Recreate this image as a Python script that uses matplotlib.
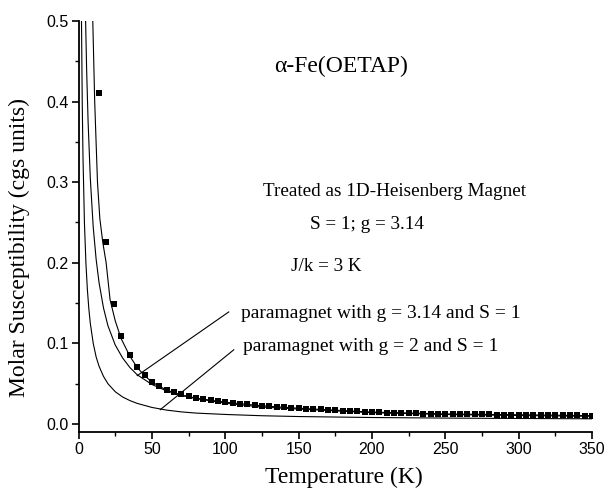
import numpy as np
import matplotlib
matplotlib.use('Agg')
import matplotlib.pyplot as plt
from matplotlib.ticker import MultipleLocator

# --- measured data (squares) ---
temp_data = [14, 19, 24, 29, 35, 40, 45, 50, 55, 60,
             65, 70, 75, 80, 85, 90, 95, 100, 105, 110,
             115, 120, 125, 130, 135, 140, 145, 150, 155, 160,
             165, 170, 175, 180, 185, 190, 195, 200, 205, 210,
             215, 220, 225, 230, 235, 240, 245, 250, 255, 260,
             265, 270, 275, 280, 285, 290, 295, 300, 305, 310,
             315, 320, 325, 330, 335, 340, 345, 350]
chi_data = [0.411, 0.2255, 0.149, 0.109, 0.086, 0.071, 0.0605, 0.052, 0.047, 0.042,
            0.0395, 0.0370, 0.0348, 0.0328, 0.0311, 0.0296, 0.0283, 0.0272, 0.0262, 0.0252,
            0.0243, 0.0235, 0.0227, 0.0220, 0.0213, 0.0207, 0.0201, 0.0195, 0.0190, 0.0185,
            0.0180, 0.0175, 0.0170, 0.0165, 0.0160, 0.0155, 0.0151, 0.0147, 0.0144, 0.0141,
            0.0138, 0.0135, 0.0133, 0.0131, 0.0129, 0.0127, 0.0125, 0.0124, 0.0123, 0.0122,
            0.0121, 0.0120, 0.0119, 0.0118, 0.0117, 0.0116, 0.0115, 0.0114, 0.0113, 0.0112,
            0.0111, 0.0110, 0.0109, 0.0108, 0.0107, 0.0105, 0.0104, 0.0103]

# --- 1D Heisenberg fit (upper curve) ---
temp_fit = [9.2, 9.7, 11, 12.9, 14.5, 16.5, 18.8, 21.5, 25, 29, 35, 40, 45, 50,
            60, 70, 80, 100, 125, 150, 200, 250, 300, 350]
chi_fit = [0.53, 0.5, 0.4, 0.3, 0.255, 0.2255, 0.2, 0.154, 0.128, 0.106, 0.084, 0.070, 0.060, 0.052,
           0.042, 0.036, 0.032, 0.027, 0.0225, 0.0195, 0.0147, 0.0124, 0.0114, 0.0103]

# --- paramagnet g = 3.14, S = 1 (middle curve) ---
temp_p314 = [4.6, 4.8, 5.5, 6.5, 8, 10, 12, 14, 17, 20, 25, 30, 35, 40, 50,
             60, 70, 80, 100, 125, 150, 200, 250, 300, 350]
chi_p314 = [0.52, 0.5, 0.44, 0.375, 0.305, 0.244, 0.204, 0.175, 0.144, 0.122, 0.098, 0.082, 0.070, 0.061, 0.049,
            0.041, 0.0355, 0.0315, 0.0258, 0.021, 0.0185, 0.0140, 0.0118, 0.0105, 0.0095]

# --- paramagnet g = 2, S = 1 (lower curve) ---
temp_p2 = [1.9, 2.5, 3, 4, 5, 6, 7, 8, 10, 12, 14, 17, 20, 25, 30, 35, 40, 50,
           60, 70, 80, 100, 125, 150, 200, 250, 300, 350]
chi_p2 = [0.52, 0.4, 0.333, 0.25, 0.2, 0.167, 0.143, 0.125, 0.1, 0.083, 0.0715, 0.059, 0.050, 0.040, 0.0335, 0.029, 0.0255, 0.0205,
          0.0172, 0.0150, 0.0135, 0.0118, 0.0102, 0.0092, 0.0080, 0.0073, 0.0068, 0.0064]

serif = 'Liberation Serif'
sans = 'Liberation Sans'

fig = plt.figure(figsize=(6.09, 4.93), dpi=100)
ax = fig.add_axes([0.129, 0.1237, 0.843, 0.8337])

ax.plot(temp_p2, chi_p2, color='black', lw=0.8)
ax.plot(temp_p314, chi_p314, color='black', lw=0.8)
ax.plot(temp_fit, chi_fit, color='black', lw=0.8)
ax.plot(temp_data, chi_data, 's', color='black', markersize=4.2, markeredgewidth=0)

ax.set_xlim(0, 350)
ax.set_ylim(-0.01, 0.5)

for side in ['top', 'right']:
    ax.spines[side].set_visible(False)
for side in ['left', 'bottom']:
    ax.spines[side].set_linewidth(1.3)

ax.xaxis.set_major_locator(MultipleLocator(50))
ax.xaxis.set_minor_locator(MultipleLocator(25))
ax.yaxis.set_major_locator(MultipleLocator(0.1))
ax.yaxis.set_minor_locator(MultipleLocator(0.05))
ax.tick_params(which='major', direction='out', length=5, width=1.2, labelsize=11.5, pad=2)
ax.tick_params(which='minor', direction='out', length=3, width=1.0)
for lab in ax.get_xticklabels() + ax.get_yticklabels():
    lab.set_fontfamily(sans)

ax.set_xlabel('Temperature (K)', fontfamily=serif, fontsize=17)
ax.set_ylabel('Molar Susceptibility (cgs units)', fontfamily=serif, fontsize=17)
ax.xaxis.set_label_coords(0.517, -0.085)
ax.yaxis.set_label_coords(-0.094, 0.45)

ax.text(133, 0.443, 'α-Fe(OETAP)', fontfamily=serif, fontsize=17, va='center', ha='left')
ax.text(126, 0.288, 'Treated as 1D-Heisenberg Magnet', fontfamily=serif, fontsize=13.8, va='center', ha='left')
ax.text(158, 0.247, 'S = 1; g = 3.14', fontfamily=serif, fontsize=13.8, va='center', ha='left')
ax.text(145, 0.195, 'J/k = 3 K', fontfamily=serif, fontsize=13.8, va='center', ha='left')

# pointer lines and labels for the paramagnet curves
ax.plot([40, 102.4], [0.060, 0.139], color='black', lw=0.8)
ax.text(111, 0.1375, 'paramagnet with g = 3.14 and S = 1', fontfamily=serif, fontsize=14, va='center', ha='left')
ax.plot([55.7, 105.8], [0.0177, 0.092], color='black', lw=0.8)
ax.text(112, 0.096, 'paramagnet with g = 2 and S = 1', fontfamily=serif, fontsize=14, va='center', ha='left')

fig.savefig('out.png', dpi=100)
